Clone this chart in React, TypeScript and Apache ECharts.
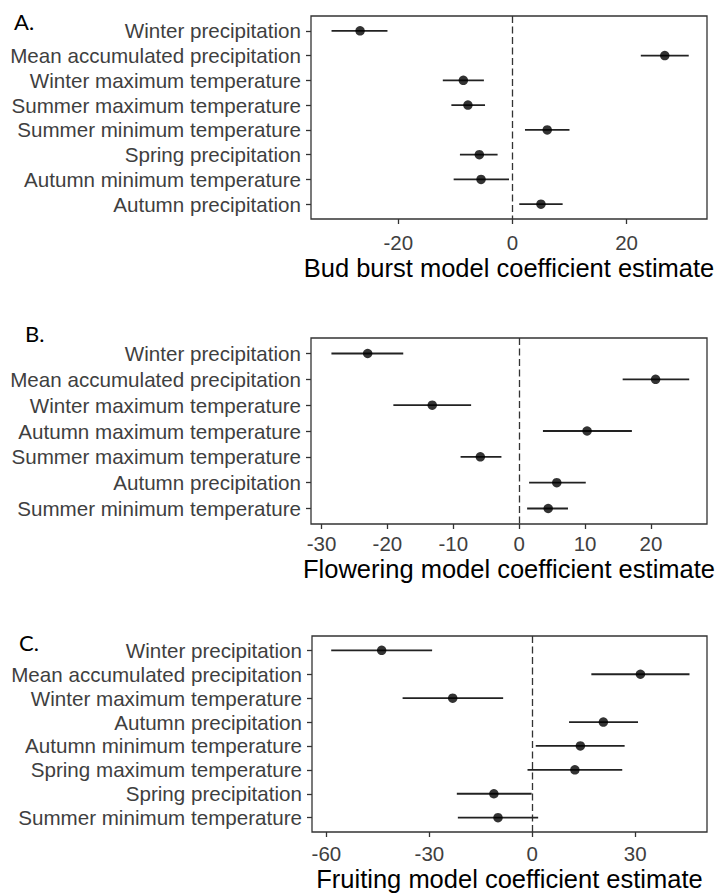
import React, { useEffect, useRef } from "react";
import * as echarts from "echarts";

// Panel A: Bud burst
const catsA = [
  "Winter precipitation",
  "Mean accumulated precipitation",
  "Winter maximum temperature",
  "Summer maximum temperature",
  "Summer minimum temperature",
  "Spring precipitation",
  "Autumn minimum temperature",
  "Autumn precipitation",
];
const estA = [-26.7, 26.7, -8.6, -7.8, 6.1, -5.8, -5.5, 5.0];
const loA = [-31.7, 22.5, -12.2, -10.7, 2.2, -9.2, -10.3, 1.2];
const hiA = [-21.9, 30.9, -5.0, -4.8, 10.0, -2.6, -0.6, 8.8];
const ticksA = [-20, 0, 20];

// Panel B: Flowering
const catsB = [
  "Winter precipitation",
  "Mean accumulated precipitation",
  "Winter maximum temperature",
  "Autumn maximum temperature",
  "Summer maximum temperature",
  "Autumn precipitation",
  "Summer minimum temperature",
];
const estB = [-23.0, 20.7, -13.2, 10.3, -5.9, 5.7, 4.4];
const loB = [-28.5, 15.7, -19.1, 3.6, -8.9, 1.5, 1.2];
const hiB = [-17.6, 25.8, -7.3, 17.1, -2.7, 10.1, 7.4];
const ticksB = [-30, -20, -10, 0, 10, 20];

// Panel C: Fruiting
const catsC = [
  "Winter precipitation",
  "Mean accumulated precipitation",
  "Winter maximum temperature",
  "Autumn precipitation",
  "Autumn minimum temperature",
  "Spring maximum temperature",
  "Spring precipitation",
  "Summer minimum temperature",
];
const estC = [-43.9, 31.5, -23.2, 20.7, 14.0, 12.4, -11.2, -10.0];
const loC = [-58.6, 17.2, -37.8, 10.7, 1.0, -1.4, -22.0, -21.7];
const hiC = [-29.2, 45.8, -8.5, 30.8, 26.9, 26.2, -0.2, 1.7];
const ticksC = [-60, -30, 0, 30];

const FONT = "'Liberation Sans', Arial, Helvetica, sans-serif";
const GREY = "#3f3f3f";

type Panel = {
  cats: string[];
  est: number[];
  lo: number[];
  hi: number[];
  ticks: number[];
  xMin: number;
  xMax: number;
  name: string;
  grid: { left: number; top: number; width: number; height: number };
  labelMargin: number;
  nameGap: number;
};

const panels: Panel[] = [
  {
    cats: catsA, est: estA, lo: loA, hi: hiA, ticks: ticksA,
    xMin: -35.3, xMax: 34.1,
    name: "Bud burst model coefficient estimate",
    grid: { left: 311, top: 16, width: 396, height: 203 },
    labelMargin: 13, nameGap: 36,
  },
  {
    cats: catsB, est: estB, lo: loB, hi: hiB, ticks: ticksB,
    xMin: -31.6, xMax: 28.5,
    name: "Flowering model coefficient estimate",
    grid: { left: 311, top: 338, width: 396, height: 186 },
    labelMargin: 9, nameGap: 32,
  },
  {
    cats: catsC, est: estC, lo: loC, hi: hiC, ticks: ticksC,
    xMin: -64.2, xMax: 50.9,
    name: "Fruiting model coefficient estimate",
    grid: { left: 312, top: 636, width: 395, height: 196 },
    labelMargin: 11, nameGap: 34,
  },
];

export default function App() {
  const ref = useRef<HTMLDivElement>(null);
  useEffect(() => {
    document.body.style.margin = "0";
    if (!ref.current) return;
    const chart = echarts.init(ref.current, undefined, { renderer: "svg" });

    const grids: any[] = [];
    const xAxes: any[] = [];
    const yAxes: any[] = [];
    const series: any[] = [];

    panels.forEach((p, i) => {
      grids.push({
        ...p.grid,
        show: true,
        borderColor: "#333",
        borderWidth: 1.3,
        backgroundColor: "#fff",
        containLabel: false,
      });
      xAxes.push({
        type: "value",
        gridIndex: i,
        min: p.xMin,
        max: p.xMax,
        position: "bottom",
        axisLine: { show: false, onZero: false },
        splitLine: { show: false },
        axisTick: {
          show: true,
          length: 5,
          lineStyle: { color: "#333", width: 1.3 },
          customValues: p.ticks,
        },
        axisLabel: {
          show: true,
          customValues: p.ticks,
          margin: p.labelMargin,
          color: GREY,
          fontSize: 20.5,
          fontFamily: FONT,
        },
        name: p.name,
        nameLocation: "middle",
        nameGap: p.nameGap,
        nameTextStyle: { color: "#000", fontSize: 25.5, fontFamily: FONT },
      });
      const idx = p.cats.map((_, k) => k + 1);
      yAxes.push({
        type: "value",
        gridIndex: i,
        inverse: true,
        min: 0.4,
        max: p.cats.length + 0.6,
        position: "left",
        axisLine: { show: false, onZero: false },
        splitLine: { show: false },
        axisTick: {
          show: true,
          length: 5,
          lineStyle: { color: "#333", width: 1.3 },
          customValues: idx,
        },
        axisLabel: {
          show: true,
          customValues: idx,
          margin: 10,
          color: GREY,
          fontSize: 20.6,
          fontFamily: FONT,
          formatter: (v: number) => p.cats[Math.round(v) - 1] ?? "",
        },
      });
      series.push({
        type: "custom",
        xAxisIndex: i,
        yAxisIndex: i,
        data: p.cats.map((_, k) => [p.lo[k], p.hi[k], k + 1]),
        encode: { x: [0, 1], y: 2 },
        renderItem: (_params: any, api: any) => {
          const a = api.coord([api.value(0), api.value(2)]);
          const b = api.coord([api.value(1), api.value(2)]);
          return {
            type: "line",
            shape: { x1: a[0], y1: a[1], x2: b[0], y2: b[1] },
            style: { stroke: "#222", lineWidth: 1.8 },
          };
        },
        z: 3,
        silent: true,
      });
      series.push({
        type: "scatter",
        xAxisIndex: i,
        yAxisIndex: i,
        data: p.cats.map((_, k) => [p.est[k], k + 1]),
        symbol: "circle",
        symbolSize: 9.5,
        itemStyle: { color: "#000" },
        z: 4,
        silent: true,
        markLine: {
          silent: true,
          symbol: ["none", "none"],
          label: { show: false },
          lineStyle: { color: "#333", width: 1.3, type: [7, 3.5] },
          data: [{ xAxis: 0 }],
          z: 2,
        },
      });
    });

    const letterStyle = {
      fontFamily: "Lato, 'Open Sans', sans-serif",
      fontSize: 22,
      fontWeight: "normal",
      color: "#000",
    };

    chart.setOption({
      animation: false,
      backgroundColor: "#fff",
      title: [
        { text: "A.", left: 9, top: 5, textStyle: letterStyle },
        { text: "B.", left: 20, top: 317, textStyle: letterStyle },
        { text: "C.", left: 14, top: 626, textStyle: letterStyle },
      ],
      grid: grids,
      xAxis: xAxes,
      yAxis: yAxes,
      series,
    });
    return () => chart.dispose();
  }, []);
  return <div ref={ref} style={{ width: 719, height: 895 }} />;
}
